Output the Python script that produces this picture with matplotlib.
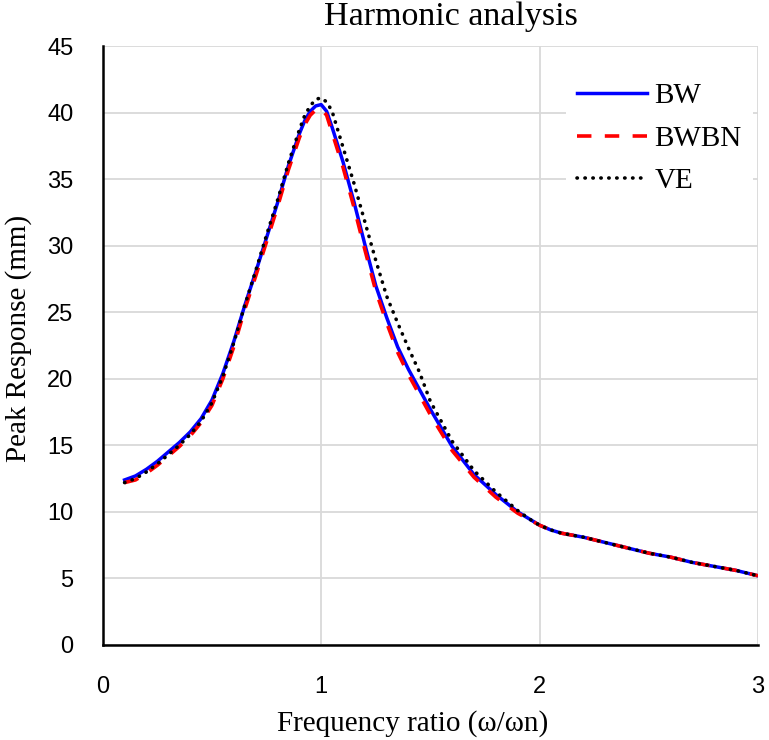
import matplotlib
matplotlib.use("Agg")
from matplotlib import pyplot as plt

# frequency ratio (w/wn)
ratio = [0.1, 0.15, 0.2, 0.25, 0.3, 0.35, 0.4, 0.45, 0.5, 0.55, 0.6, 0.65,
         0.7, 0.75, 0.8, 0.85, 0.9, 0.925, 0.95, 0.975, 1.0, 1.025, 1.05,
         1.1, 1.15, 1.2, 1.25, 1.3, 1.35, 1.4, 1.45, 1.5, 1.6, 1.7, 1.8,
         1.9, 1.95, 2.0, 2.05, 2.1, 2.2, 2.3, 2.4, 2.5, 2.6, 2.7, 2.8, 2.9,
         3.0]

# peak response (mm)
bw = [12.4, 12.7, 13.2, 13.8, 14.5, 15.2, 16.0, 17.0, 18.4, 20.4, 22.8,
      25.5, 28.0, 30.6, 33.2, 36.0, 38.4, 39.4, 40.1, 40.5, 40.6, 40.1,
      38.9, 36.3, 33.3, 30.1, 27.0, 24.6, 22.4, 20.7, 19.2, 17.7, 14.9,
      12.8, 11.3, 10.0, 9.5, 9.0, 8.65, 8.4, 8.1, 7.7, 7.3, 6.9, 6.6, 6.2,
      5.9, 5.6, 5.2]
bwbn = [12.2, 12.4, 12.9, 13.5, 14.2, 14.9, 15.7, 16.7, 18.0, 20.0, 22.4,
        25.2, 27.7, 30.3, 32.9, 35.7, 38.1, 39.1, 39.8, 40.2, 40.3, 39.8,
        38.5, 35.9, 32.9, 29.7, 26.6, 24.2, 22.0, 20.3, 18.8, 17.3, 14.6,
        12.6, 11.1, 9.9, 9.45, 9.0, 8.65, 8.4, 8.1, 7.7, 7.3, 6.9, 6.6, 6.2,
        5.9, 5.6, 5.2]
ve = [12.2, 12.5, 13.0, 13.6, 14.3, 15.0, 15.8, 16.8, 18.2, 20.2, 22.7,
      25.5, 28.1, 30.8, 33.4, 36.2, 38.7, 39.8, 40.5, 41.0, 41.1, 40.8,
      40.1, 37.4, 34.7, 31.8, 28.9, 26.2, 24.2, 22.3, 20.5, 18.3, 15.3,
      13.1, 11.5, 10.1, 9.5, 9.0, 8.65, 8.4, 8.1, 7.7, 7.3, 6.9, 6.6, 6.2,
      5.9, 5.6, 5.2]

xticks = [0, 1, 2, 3]
yticks = [0, 5, 10, 15, 20, 25, 30, 35, 40, 45]

serif = ['Liberation Serif', 'DejaVu Serif']
sans = ['Liberation Sans', 'DejaVu Sans']

f = plt.figure(figsize=(7.69, 7.40), dpi=100)
ax = f.add_axes([0.1336, 0.1284, 0.8521, 0.8094])

ax.plot(ratio, bw, color='#0000ff', lw=2.5, label='BW', zorder=3)
ax.plot(ratio, bwbn, color='#ff0000', lw=2.6, ls=(0, (4, 3.7)), label='BWBN', zorder=4)
ax.plot(ratio, ve, color='black', lw=2.6, ls=(0, (0.1, 2.1)),
        dash_capstyle='round', label='VE', zorder=5)

ax.set_xlim(0, 3)
ax.set_ylim(0, 45)
ax.set_xticks(xticks)
ax.set_yticks(yticks)
ax.grid(True, color='#d9d9d9', lw=1.3)
ax.set_axisbelow(True)
for s in ['top', 'right']:
    ax.spines[s].set_visible(False)
for s in ['left', 'bottom']:
    ax.spines[s].set_linewidth(1.8)
ax.tick_params(length=0, labelsize=17)
ax.tick_params(axis='y', pad=21)
ax.tick_params(axis='x', pad=22)
for lab in ax.get_xticklabels() + ax.get_yticklabels():
    lab.set_family(sans)

ax.set_xlabel('Frequency ratio (ω/ωn)', family=serif, fontsize=21)
ax.xaxis.set_label_coords(0.4735, -0.108)
ax.set_ylabel('Peak Response (mm)', family=serif, fontsize=21)
ax.yaxis.set_label_coords(-0.108, 0.5125)

f.text(0.5865, 0.966, 'Harmonic analysis', family=serif, fontsize=24.5,
       ha='center', va='baseline')

leg = ax.legend(loc='center left', bbox_to_anchor=(0.7165, 0.8128),
                bbox_transform=f.transFigure, prop={'family': serif, 'size': 21},
                frameon=True, fancybox=False, handlelength=2.4,
                handletextpad=0.25, labelspacing=0.55)
leg.get_frame().set_edgecolor('none')
leg.get_frame().set_facecolor('white')
leg.get_frame().set_alpha(1)

f.savefig('out.png', dpi=100)
